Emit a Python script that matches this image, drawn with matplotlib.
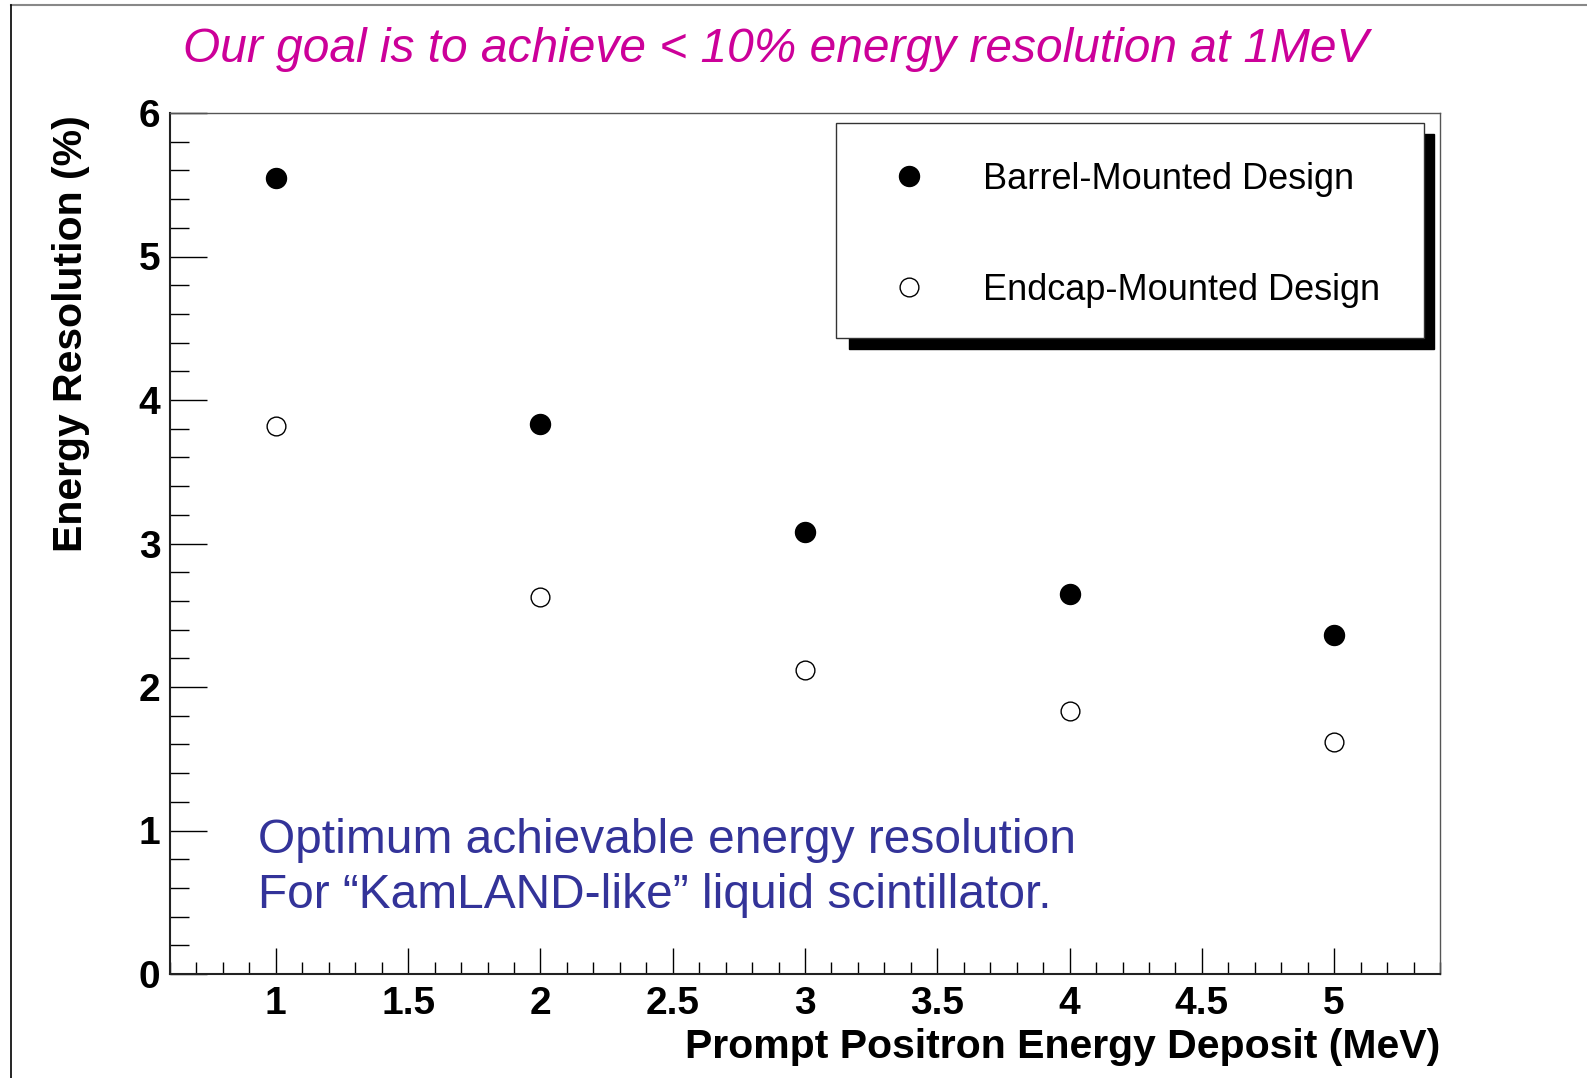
import matplotlib
matplotlib.use("Agg")
import matplotlib.pyplot as plt
from matplotlib.lines import Line2D
from matplotlib.patches import Rectangle
from matplotlib.ticker import MultipleLocator

# ------------------------
# Data
# ------------------------
energy = [1, 2, 3, 4, 5]                         # MeV
barrel_res = [5.55, 3.83, 3.08, 2.65, 2.36]      # %
endcap_res = [3.82, 2.63, 2.12, 1.83, 1.62]      # %

labels = ["Barrel-Mounted Design", "Endcap-Mounted Design"]
title = "Our goal is to achieve < 10% energy resolution at 1MeV"
note = "Optimum achievable energy resolution\nFor \u201cKamLAND-like\u201d liquid scintillator."

plt.rcParams['font.family'] = ['Liberation Sans', 'DejaVu Sans']

W, H = 1587, 1078
fig = plt.figure(figsize=(W / 100, H / 100), dpi=100)

# axes box in pixels: left 170, right 1440, top 113, bottom 974
ax = fig.add_axes([170 / W, 1 - 974 / H, 1270 / W, 861 / H])

ax.plot(energy, barrel_res, 'o', color='black', markersize=14.4, linestyle='none',
        label=labels[0])
ax.plot(energy, endcap_res, 'o', markerfacecolor='white', markeredgecolor='black',
        markeredgewidth=1.0, markersize=13.5, linestyle='none', label=labels[1])

ax.set_xlim(0.6, 5.4)
ax.set_ylim(0, 6)

# ROOT-like ticks
ax.xaxis.set_major_locator(MultipleLocator(0.5))
ax.xaxis.set_minor_locator(MultipleLocator(0.1))
ax.yaxis.set_major_locator(MultipleLocator(1))
ax.yaxis.set_minor_locator(MultipleLocator(0.2))
ax.set_xticks([1, 1.5, 2, 2.5, 3, 3.5, 4, 4.5, 5])
ax.set_xticklabels(["1", "1.5", "2", "2.5", "3", "3.5", "4", "4.5", "5"])
ax.tick_params(axis='x', which='major', direction='in', length=18.7, width=1.0,
               pad=9, labelsize=28)
ax.tick_params(axis='x', which='minor', direction='in', length=8.6, width=1.0)
ax.tick_params(axis='y', which='major', direction='in', length=26.6, width=1.0,
               pad=7, labelsize=28)
ax.tick_params(axis='y', which='minor', direction='in', length=13.7, width=1.0)
for lab in ax.get_xticklabels() + ax.get_yticklabels():
    lab.set_fontweight('bold')

for side in ['left', 'bottom']:
    ax.spines[side].set_linewidth(1.5)
    ax.spines[side].set_color('#222222')
for side in ['top', 'right']:
    ax.spines[side].set_linewidth(1.0)
    ax.spines[side].set_color('#555555')

ax.set_xlabel("Prompt Positron Energy Deposit (MeV)", fontsize=29.5,
              fontweight='bold', loc='right')
ax.xaxis.label.set_va('center')
ax.xaxis.set_label_coords(1.0, -(1047 - 974) / 861)

ax.set_ylabel("Energy Resolution (%)", fontsize=29.5, fontweight='bold', loc='top')
ax.yaxis.label.set_va('center')
ax.yaxis.set_label_coords((71 - 170) / 1270, 0.997)

# legend: frame + solid black shadow drawn by hand, ROOT style
bx0, bx1 = (836 - 170) / 1270, (1424 - 170) / 1270
by1, by0 = (974 - 123) / 861, (974 - 338) / 861
sx, sy = 13 / 1270, 11 / 861
ax.add_patch(Rectangle((bx0 + sx, by0 - sy), bx1 - bx0 - 3 / 1270, by1 - by0,
                       transform=ax.transAxes, facecolor='black',
                       edgecolor='black', zorder=4, clip_on=False))
ax.add_patch(Rectangle((bx0, by0), bx1 - bx0, by1 - by0,
                       transform=ax.transAxes, facecolor='white',
                       edgecolor='#333333', linewidth=1.0, zorder=5, clip_on=False))
leg = ax.legend(loc='upper left', bbox_to_anchor=((892 - 170) / 1270, (974 - 162) / 861),
                frameon=False, fontsize=26, handlelength=0.96, handletextpad=1.55,
                labelspacing=2.1, borderpad=0, borderaxespad=0, numpoints=1)
leg.set_zorder(6)

# annotation inside the plot
ax.text((258 - 170) / 1270, (974 - 818) / 861, note, transform=ax.transAxes,
        fontsize=34.5, color='#333399', ha='left', va='top', linespacing=1.3)

# title above the frame
fig.text(776 / W, 1 - 62 / H, title, fontsize=34.5, style='italic', color='#CC0099',
         ha='center', va='baseline')

# page border lines (top and left)
fig.add_artist(Line2D([11 / W, 1], [1 - 5 / H, 1 - 5 / H], color='#888888', lw=1.5))
fig.add_artist(Line2D([11 / W, 11 / W], [0, 1 - 5 / H], color='black', lw=1.2))

fig.savefig("out.png", dpi=100, facecolor='white')
